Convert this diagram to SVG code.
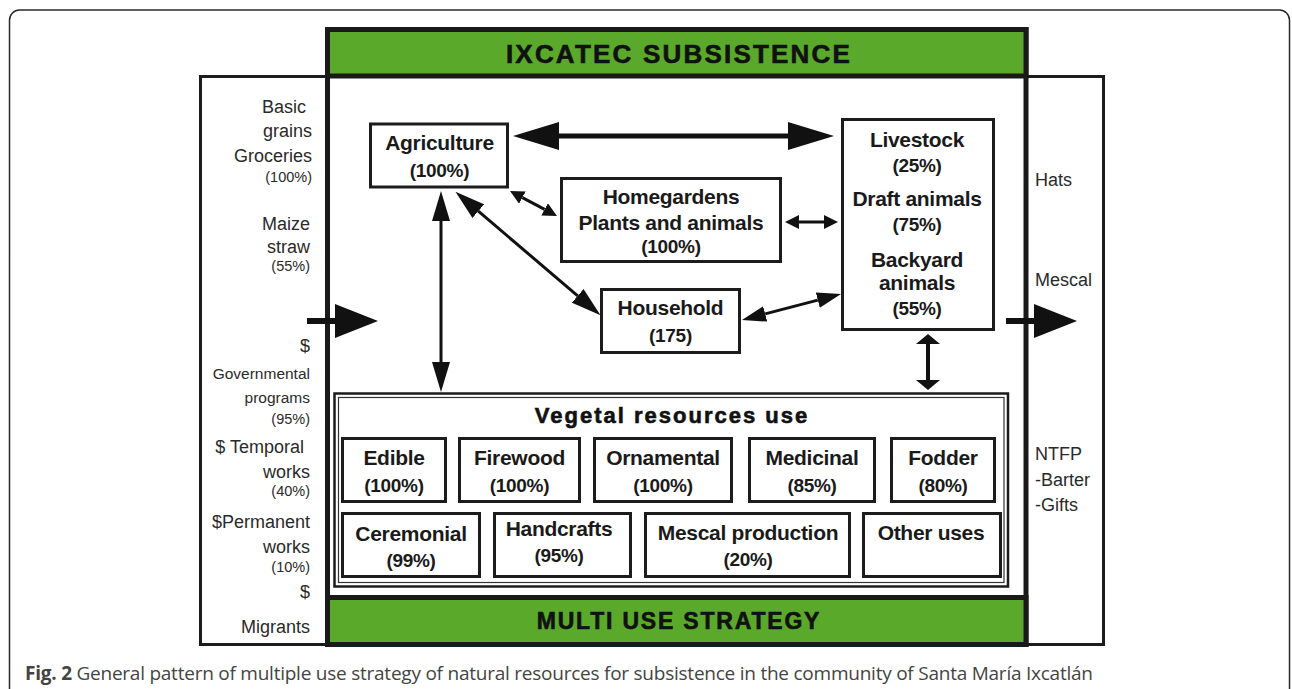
<svg xmlns="http://www.w3.org/2000/svg" width="1292" height="689" viewBox="0 0 1292 689">
<defs>
<style>
.frame{fill:#fff;stroke:#2a2a2a;stroke-width:1.5}
.box{fill:#fff;stroke:#1c1c1c;stroke-width:3}
.thick{fill:#fff;stroke:#1a1a1a;stroke-width:5}
.green{fill:#5aa92a;stroke:#1a1a1a;stroke-width:5}
.t{font-family:"Liberation Sans",Arial,sans-serif;font-weight:bold;font-size:21px;fill:#1a1a1a;text-anchor:middle;letter-spacing:-0.3px}
.p{font-family:"Liberation Sans",Arial,sans-serif;font-weight:bold;font-size:19px;fill:#1a1a1a;text-anchor:middle;letter-spacing:-0.3px}
.banner{font-family:"Liberation Sans",Arial,sans-serif;font-weight:bold;fill:#111;stroke:#111;stroke-width:0.6;text-anchor:middle}
.side{font-family:"Liberation Sans",Arial,sans-serif;font-size:18px;fill:#2a2a2a}
.gov{font-family:"Liberation Sans",Arial,sans-serif;font-size:15.5px;fill:#2a2a2a}
.sm{font-family:"Liberation Sans",Arial,sans-serif;font-size:14.5px;fill:#2a2a2a}
.l{text-anchor:end}
.conn{fill:none;stroke:#111}
</style>
<marker id="hXL" viewBox="0 -14 46 28" refX="0" refY="0" markerWidth="46" markerHeight="28" markerUnits="userSpaceOnUse" orient="auto-start-reverse"><path d="M0,-14 L46,0 L0,14 z" fill="#111"/></marker>
<marker id="hL" viewBox="0 -9 30 18" refX="0" refY="0" markerWidth="30" markerHeight="18" markerUnits="userSpaceOnUse" orient="auto-start-reverse"><path d="M0,-9 L30,0 L0,9 z" fill="#111"/></marker>
<marker id="hM" viewBox="0 -8 24 16" refX="0" refY="0" markerWidth="24" markerHeight="16" markerUnits="userSpaceOnUse" orient="auto-start-reverse"><path d="M0,-8 L24,0 L0,8 z" fill="#111"/></marker>
<marker id="hS" viewBox="0 -7 14 14" refX="0" refY="0" markerWidth="14" markerHeight="14" markerUnits="userSpaceOnUse" orient="auto-start-reverse"><path d="M0,-7 L14,0 L0,7 z" fill="#111"/></marker>
<marker id="hW" viewBox="0 -12 10 24" refX="0" refY="0" markerWidth="10" markerHeight="24" markerUnits="userSpaceOnUse" orient="auto-start-reverse"><path d="M0,-12 L10,0 L0,12 z" fill="#111"/></marker>
<marker id="hIO" viewBox="0 -17 43 34" refX="0" refY="0" markerWidth="43" markerHeight="34" markerUnits="userSpaceOnUse" orient="auto"><path d="M0,-17 L43,0 L0,17 z" fill="#111"/></marker>
</defs>
<rect width="1292" height="689" fill="#fff"/>
<rect class="frame" x="9.5" y="10" width="1280" height="700" rx="10"/>

<g id="inputs">
<rect class="box" x="200.5" y="76.5" width="127" height="568"/>
<text class="side l" x="306" y="113">Basic</text>
<text class="side l" x="312" y="137">grains</text>
<text class="side l" x="312" y="162">Groceries</text>
<text class="sm l" x="312" y="182">(100%)</text>
<text class="side l" x="310" y="230">Maize</text>
<text class="side l" x="310" y="253">straw</text>
<text class="sm l" x="310" y="271">(55%)</text>
<text class="side l" x="310" y="352">$</text>
<text class="gov l" x="310" y="379">Governmental</text>
<text class="gov l" x="310" y="403">programs</text>
<text class="sm l" x="310" y="424">(95%)</text>
<text class="side l" x="304" y="453">$ Temporal</text>
<text class="side l" x="310" y="478">works</text>
<text class="sm l" x="310" y="496">(40%)</text>
<text class="side l" x="310" y="528">$Permanent</text>
<text class="side l" x="310" y="553">works</text>
<text class="sm l" x="310" y="572">(10%)</text>
<text class="side l" x="310" y="598">$</text>
<text class="side l" x="310" y="633">Migrants</text>
</g>

<g id="outputs">
<rect class="box" x="1026" y="76.5" width="77.5" height="568"/>
<text class="side" x="1035" y="186">Hats</text>
<text class="side" x="1035" y="286">Mescal</text>
<text class="side" x="1035" y="460">NTFP</text>
<text class="side" x="1035" y="486">-Barter</text>
<text class="side" x="1035" y="511">-Gifts</text>
</g>

<g id="subsistence-frame">
<rect class="thick" x="327.5" y="29.5" width="698.5" height="615"/>
<rect class="green" x="327.5" y="29.5" width="698.5" height="46.5"/>
<text class="banner" x="679" y="63" font-size="26" letter-spacing="2.2">IXCATEC SUBSISTENCE</text>
<rect class="green" x="327.5" y="597.5" width="698.5" height="47"/>
<text class="banner" x="679" y="629" font-size="23" letter-spacing="1.8">MULTI USE STRATEGY</text>
</g>

<g id="agriculture">
<rect class="box" x="370.5" y="124" width="137" height="63"/>
<text class="t" x="439.5" y="150">Agriculture</text>
<text class="p" x="439.5" y="177">(100%)</text>
</g>

<g id="homegardens">
<rect class="box" x="561.5" y="178.5" width="219" height="83"/>
<text class="t" x="671" y="204">Homegardens</text>
<text class="t" x="671" y="230">Plants and animals</text>
<text class="p" x="671" y="253">(100%)</text>
</g>

<g id="livestock">
<rect class="box" x="842.5" y="119.5" width="151" height="210"/>
<text class="t" x="917" y="147">Livestock</text>
<text class="p" x="917" y="172">(25%)</text>
<text class="t" x="917" y="206">Draft animals</text>
<text class="p" x="917" y="231">(75%)</text>
<text class="t" x="917" y="267">Backyard</text>
<text class="t" x="917" y="290">animals</text>
<text class="p" x="917" y="315">(55%)</text>
</g>

<g id="household">
<rect class="box" x="601.5" y="289.5" width="138" height="63"/>
<text class="t" x="670.5" y="315" font-size="22">Household</text>
<text class="p" x="670.5" y="342" font-size="20">(175)</text>
</g>

<g id="vegetal">
<rect fill="#fff" stroke="#1c1c1c" stroke-width="2.5" x="334.5" y="393.5" width="673.5" height="193"/>
<rect fill="none" stroke="#333" stroke-width="1.2" x="338.5" y="397.5" width="665.5" height="185"/>
<text class="banner" x="672" y="423" font-size="22" letter-spacing="2" stroke-width="0.3">Vegetal resources use</text>
</g>

<g id="edible">
<rect class="box" x="342.5" y="438.5" width="103" height="63"/>
<text class="t" x="394" y="465">Edible</text>
<text class="p" x="394" y="492">(100%)</text>
</g>
<g id="firewood">
<rect class="box" x="459.5" y="438.5" width="120" height="63"/>
<text class="t" x="519.5" y="465">Firewood</text>
<text class="p" x="519.5" y="492">(100%)</text>
</g>
<g id="ornamental">
<rect class="box" x="594.5" y="438.5" width="137" height="63"/>
<text class="t" x="663" y="465">Ornamental</text>
<text class="p" x="663" y="492">(100%)</text>
</g>
<g id="medicinal">
<rect class="box" x="749.5" y="438.5" width="125" height="63"/>
<text class="t" x="812" y="465">Medicinal</text>
<text class="p" x="812" y="492">(85%)</text>
</g>
<g id="fodder">
<rect class="box" x="891.5" y="438.5" width="103" height="63"/>
<text class="t" x="943" y="465">Fodder</text>
<text class="p" x="943" y="492">(80%)</text>
</g>
<g id="ceremonial">
<rect class="box" x="342.5" y="513.5" width="137" height="63"/>
<text class="t" x="411" y="541">Ceremonial</text>
<text class="p" x="411" y="567">(99%)</text>
</g>
<g id="handcrafts">
<rect class="box" x="494.5" y="513.5" width="136" height="63"/>
<text class="t" x="559" y="536">Handcrafts</text>
<text class="p" x="559" y="562">(95%)</text>
</g>
<g id="mescal-production">
<rect class="box" x="645.5" y="513.5" width="204" height="63"/>
<text class="t" x="748" y="540">Mescal production</text>
<text class="p" x="748" y="566">(20%)</text>
</g>
<g id="other-uses">
<rect class="box" x="863.5" y="513.5" width="137" height="63"/>
<text class="t" x="931" y="540">Other uses</text>
</g>

<g id="connectors" class="conn">
<path d="M559,136 L788,136" stroke-width="5" marker-start="url(#hXL)" marker-end="url(#hXL)"/>
<path d="M441,221 L441,362" stroke-width="3" marker-start="url(#hL)" marker-end="url(#hL)"/>
<path d="M478.3,211.1 L577.7,295.9" stroke-width="3" marker-start="url(#hL)" marker-end="url(#hL)"/>
<path d="M765.2,313.9 L817.8,300.1" stroke-width="3" marker-start="url(#hM)" marker-end="url(#hM)"/>
<path d="M522.4,197.6 L544.6,209.4" stroke-width="3" marker-start="url(#hS)" marker-end="url(#hS)"/>
<path d="M799,222 L824,222" stroke-width="3" marker-start="url(#hS)" marker-end="url(#hS)"/>
<path d="M928,344 L928,380" stroke-width="4" marker-start="url(#hW)" marker-end="url(#hW)"/>
<path d="M307,321 L335,321" stroke-width="6" marker-end="url(#hIO)"/>
<path d="M1006,321 L1034,321" stroke-width="6" marker-end="url(#hIO)"/>
</g>

<text x="25" y="680" font-family="'Open Sans','Noto Sans',sans-serif" font-size="19" fill="#444" textLength="1068" lengthAdjust="spacing"><tspan font-weight="bold">Fig. 2</tspan> General pattern of multiple use strategy of natural resources for subsistence in the community of Santa María Ixcatlán</text>
</svg>
